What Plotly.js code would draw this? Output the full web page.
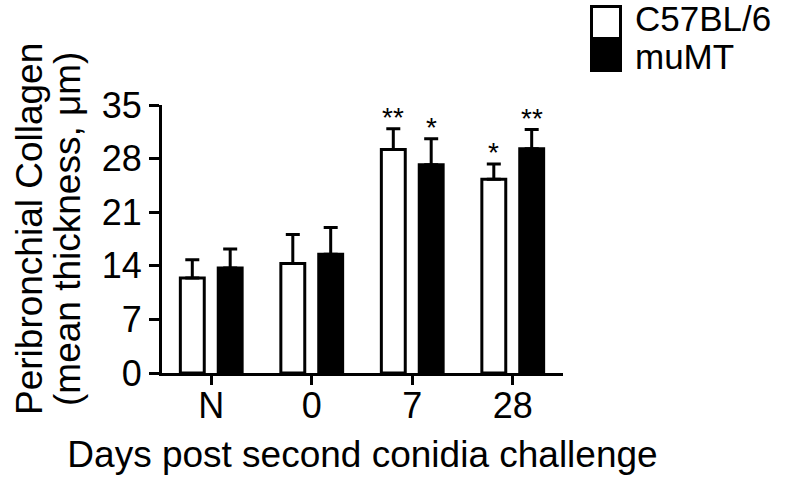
<!DOCTYPE html>
<html>
<head>
<meta charset="utf-8">
<script src="https://cdn.plot.ly/plotly-3.0.1.min.js"></script>
<style>html,body{margin:0;padding:0;background:#fff;}#chart{width:788px;height:479px;}</style>
</head>
<body>
<div id="chart"></div>
<script>
// Data
var categories = ['N', '0', '7', '28'];
var c57Values = [12.4, 14.3, 29.2, 25.3];
var c57Errors = [2.4, 3.8, 2.7, 2.0];
var mumtValues = [13.7, 15.5, 27.2, 29.3];
var mumtErrors = [2.5, 3.5, 3.4, 2.5];
var c57Signif = ['', '', '**', '*'];
var mumtSignif = ['', '', '*', '**'];
var yTicks = [0, 7, 14, 21, 28, 35];
var seriesNames = ['C57BL/6', 'muMT'];
var yTitleLines = ['Peribronchial Collagen', '(mean thickness, μm)'];
var xTitle = 'Days post second conidia challenge';

var FONT = 'Liberation Sans, Arial, Helvetica, sans-serif';
var W = 788, H = 479;
var M = {l: 162, r: 225, t: 105, b: 106};
var plotW = W - M.l - M.r, plotH = H - M.t - M.b;
function px(x) { return (x - M.l) / plotW; }
function py(y) { return (H - M.b - y) / plotH; }

function zeros(a) { return a.map(function () { return 0; }); }

var traces = [
  {
    type: 'bar', name: seriesNames[0], x: categories, y: c57Values,
    marker: {color: '#ffffff', line: {color: '#000000', width: 3}},
    error_y: {type: 'data', symmetric: false, array: c57Errors, arrayminus: zeros(c57Errors),
              color: '#000000', thickness: 3, width: 7}
  },
  {
    type: 'bar', name: seriesNames[1], x: categories, y: mumtValues,
    marker: {color: '#000000', line: {color: '#000000', width: 3}},
    error_y: {type: 'data', symmetric: false, array: mumtErrors, arrayminus: zeros(mumtErrors),
              color: '#000000', thickness: 3, width: 7}
  }
];

var annotations = [];
categories.forEach(function (c, i) {
  if (c57Signif[i]) {
    annotations.push({x: i, y: c57Values[i] + c57Errors[i], xref: 'x', yref: 'y',
      xshift: -19, yshift: -6, yanchor: 'bottom', showarrow: false, text: c57Signif[i],
      font: {family: FONT, size: 28, color: '#000'}});
  }
  if (mumtSignif[i]) {
    annotations.push({x: i, y: mumtValues[i] + mumtErrors[i], xref: 'x', yref: 'y',
      xshift: 19, yshift: -6, yanchor: 'bottom', showarrow: false, text: mumtSignif[i],
      font: {family: FONT, size: 28, color: '#000'}});
  }
});
// legend texts
annotations.push({xref: 'paper', yref: 'paper', x: px(633), y: py(18), xanchor: 'left', yanchor: 'middle',
  showarrow: false, text: seriesNames[0], font: {family: FONT, size: 35, color: '#000'}});
annotations.push({xref: 'paper', yref: 'paper', x: px(633), y: py(56), xanchor: 'left', yanchor: 'middle',
  showarrow: false, text: seriesNames[1], font: {family: FONT, size: 35, color: '#000'}});
// y axis title (two lines, tight spacing as in the reference)
annotations.push({xref: 'paper', yref: 'paper', x: px(29), y: py(229), xanchor: 'center', yanchor: 'middle',
  textangle: -90, showarrow: false, text: yTitleLines[0], font: {family: FONT, size: 37, color: '#000'}});
annotations.push({xref: 'paper', yref: 'paper', x: px(67), y: py(229), xanchor: 'center', yanchor: 'middle',
  textangle: -90, showarrow: false, text: yTitleLines[1], font: {family: FONT, size: 37, color: '#000'}});

var shapes = [
  {type: 'rect', xref: 'paper', yref: 'paper', x0: px(590), x1: px(622), y0: py(72), y1: py(5),
   fillcolor: '#000', line: {width: 0}},
  {type: 'rect', xref: 'paper', yref: 'paper', x0: px(593), x1: px(619), y0: py(37), y1: py(8),
   fillcolor: '#fff', line: {width: 0}}
];

var layout = {
  width: W, height: H,
  margin: M,
  paper_bgcolor: '#fff', plot_bgcolor: '#fff',
  showlegend: false,
  barmode: 'group', bargap: 0.246, bargroupgap: 0.369,
  font: {family: FONT, color: '#000'},
  xaxis: {
    type: 'category', range: [-0.49, 3.5],
    showline: true, linewidth: 3, linecolor: '#000',
    ticks: 'outside', ticklen: 9, tickwidth: 3, tickcolor: '#000',
    ticklabelstandoff: -10,
    tickfont: {family: FONT, size: 36, color: '#000'},
    showgrid: false, zeroline: false,
    title: {text: xTitle, font: {family: FONT, size: 37, color: '#000'}, standoff: 16}
  },
  yaxis: {
    range: [0, 35], tickvals: yTicks, ticktext: yTicks.map(String),
    showline: true, linewidth: 3, linecolor: '#000',
    ticks: 'outside', ticklen: 10, tickwidth: 3, tickcolor: '#000',
    tickfont: {family: FONT, size: 36, color: '#000'},
    showgrid: false, zeroline: false
  },
  annotations: annotations,
  shapes: shapes
};

Plotly.newPlot('chart', traces, layout, {staticPlot: true, displayModeBar: false});
</script>
</body>
</html>
